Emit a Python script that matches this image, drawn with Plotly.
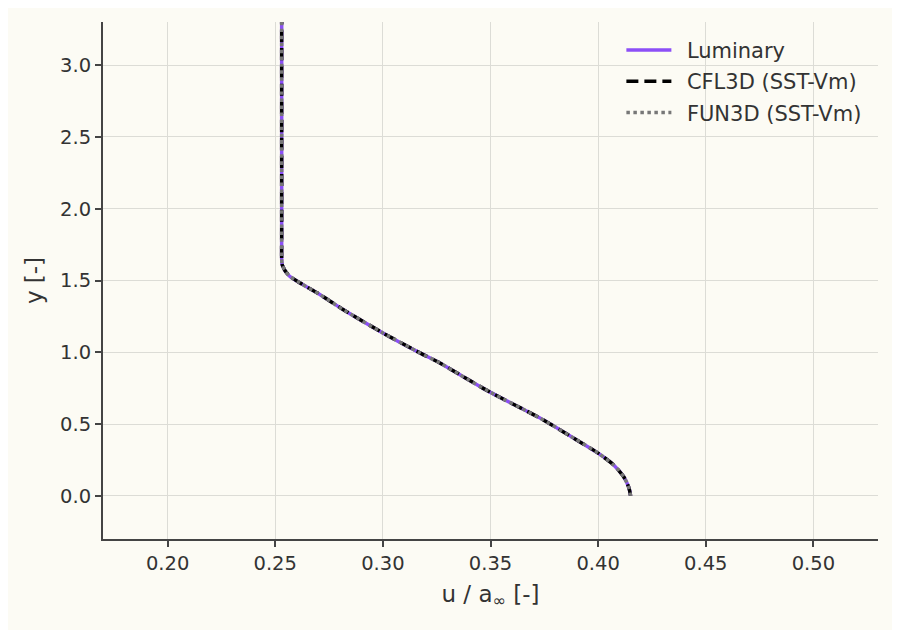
import plotly.graph_objects as go

# velocity profile (u / a_inf vs y)
y_vals = [0.0, 0.007, 0.065, 0.135, 0.216, 0.298, 0.403, 0.542, 0.721, 0.844, 0.926,
          0.996, 1.135, 1.298, 1.403, 1.484, 1.530, 1.570, 1.600, 1.612, 1.65, 1.8,
          2.0, 2.5, 3.0, 3.35]
u_luminary = [0.4150, 0.4150, 0.4141, 0.4118, 0.4072, 0.4000, 0.3886, 0.3730, 0.3500,
              0.3358, 0.3265, 0.3172, 0.3000, 0.2815, 0.2707, 0.2614, 0.2567, 0.2545,
              0.2535, 0.2532, 0.2530, 0.2530, 0.2530, 0.2530, 0.2530, 0.2530]
u_cfl3d = u_luminary
u_fun3d = u_luminary

series_names = ["Luminary", "CFL3D (SST-Vm)", "FUN3D (SST-Vm)"]
pad = "\u2002"  # a bit more room between legend line and label

fig = go.Figure()
fig.add_trace(go.Scatter(x=u_luminary, y=y_vals, mode="lines", name=pad + series_names[0], legendgroup="a",
                         line=dict(color="#8c4ff7", width=3.5, shape="spline", smoothing=0.6)))
fig.add_trace(go.Scatter(x=u_cfl3d, y=y_vals, mode="lines", name=pad + series_names[1], legendgroup="b",
                         line=dict(color="black", width=3.5, dash="12px,6px", shape="spline", smoothing=0.6)))
fig.add_trace(go.Scatter(x=u_fun3d, y=y_vals, mode="lines", name=pad + series_names[2], legendgroup="c",
                         line=dict(color="#777777", width=3.5, dash="dot", shape="spline", smoothing=0.6)))

axis_style = dict(showgrid=True, gridcolor="#dcdcd6", gridwidth=1, zeroline=False,
                  showline=True, linecolor="#444444", linewidth=2,
                  ticks="outside", ticklen=6, tickwidth=2, tickcolor="#444444",
                  tickfont=dict(size=19.5, color="#333333"))

# page body adds an 8px offset, margins are shifted to compensate
fig.update_layout(
    width=900, height=630,
    paper_bgcolor="#fcfbf4", plot_bgcolor="#fcfbf4",
    font=dict(family="DejaVu Sans", color="#333333"),
    margin=dict(l=95, r=30, t=14, b=99),
    showlegend=True,
    legend=dict(x=0.985, y=0.985, xanchor="right", yanchor="top", itemwidth=45,
                tracegroupgap=1, bgcolor="rgba(0,0,0,0)", font=dict(size=21, color="#333333")),
    xaxis=dict(title=dict(text="u / a<sub>∞</sub> [-]", font=dict(size=23), standoff=11),
               range=[0.17, 0.53], dtick=0.05, tickformat=".2f", **axis_style),
    yaxis=dict(title=dict(text="y [-]", font=dict(size=23), standoff=11),
               range=[-0.3, 3.3], dtick=0.5, tickformat=".1f", **axis_style),
)

fig.write_html("out.html")
